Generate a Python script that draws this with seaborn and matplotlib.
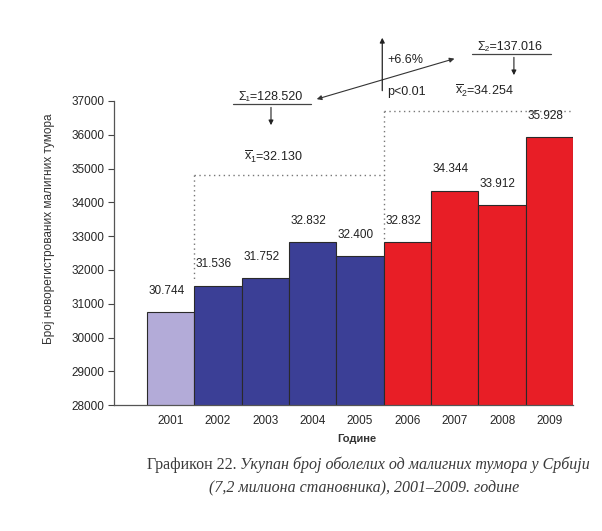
"""Recreate the Serbian cancer-incidence bar chart (2001-2009)."""

import matplotlib.pyplot as plt
import pandas as pd
import seaborn as sns

# Data
years = ["2001", "2002", "2003", "2004", "2005", "2006", "2007", "2008", "2009"]
cases = [30744, 31536, 31752, 32832, 32400, 32832, 34344, 33912, 35928]
bar_colors = ["#B3ABD8", "#3B3F96", "#3B3F96", "#3B3F96", "#3B3F96",
              "#E81E26", "#E81E26", "#E81E26", "#E81E26"]
y_ticks = list(range(28000, 37001, 1000))

sum_1 = "128.520"
sum_2 = "137.016"
mean_1 = "32.130"
mean_2 = "34.254"
change = "+6.6%"
p_value = "p<0.01"


def main():
    """Draw the chart and save it as out.png."""
    sns.set_theme(style="white")
    plt.rcParams["font.family"] = ["Liberation Sans", "DejaVu Sans"]
    plt.rcParams["mathtext.fontset"] = "custom"
    plt.rcParams["mathtext.rm"] = "Liberation Sans"
    plt.rcParams["mathtext.it"] = "Liberation Sans:italic"

    df = pd.DataFrame({"year": years, "cases": cases})

    fig = plt.figure(figsize=(6.02, 5.31), dpi=100)
    ax = fig.add_axes([0.189, 0.237, 0.763, 0.573])

    sns.barplot(data=df, x="year", y="cases", hue="year", palette=bar_colors,
                saturation=1, width=1.0, edgecolor="#2a2a2a", linewidth=0.8,
                legend=False, ax=ax)

    ax.set_ylim(28000, 37000)
    ax.set_xlim(-1.2, 8.5)
    ax.set_yticks(y_ticks)
    ax.tick_params(axis="y", length=4, width=0.8, pad=3, labelsize=8.5,
                   color="#444", left=True)
    ax.tick_params(axis="x", length=0, pad=7, labelsize=8.5)
    for side in ["top", "right"]:
        ax.spines[side].set_visible(False)
    for side in ["left", "bottom"]:
        ax.spines[side].set_color("#555")
        ax.spines[side].set_linewidth(0.9)

    ax.set_ylabel("Број новорегистрованих малигних тумора", fontsize=8.5,
                  color="#333")
    ax.yaxis.set_label_coords(-0.128, 0.58)
    ax.set_xlabel("Године", fontsize=8, fontweight="bold", color="#333")
    ax.xaxis.set_label_coords(0.53, -0.095)

    # value labels above bars
    for i, v in enumerate(cases):
        ax.annotate(f"{v:,}".replace(",", "."), xy=(i, v),
                    xytext=(-3, 11), textcoords="offset points",
                    ha="center", va="bottom", fontsize=8.5, color="#222")

    # dotted brackets around the two periods
    dot = dict(color="#777", linestyle=(0, (1, 2.5)), linewidth=1.0,
               clip_on=False)
    ax.plot([0.5, 4.5], [34800, 34800], **dot)
    ax.plot([0.5, 0.5], [34800, 31650], **dot)
    ax.plot([4.5, 8.5], [36700, 36700], **dot)
    ax.plot([4.5, 4.5], [36700, 32850], **dot)

    # period sums and means
    txt = dict(fontsize=9, color="#222", ha="center", va="bottom",
               clip_on=False)
    arrow = dict(arrowstyle="-|>", color="#222", lw=0.8, mutation_scale=7)
    ax.text(2.12, 36930, f"Σ₁={sum_1}", **txt)
    ax.plot([1.32, 2.97], [36910, 36910], color="#444", lw=0.9,
            clip_on=False)
    ax.annotate("", xy=(2.12, 36200), xytext=(2.12, 36890),
                arrowprops=arrow, annotation_clip=False)
    ax.text(2.16, 35342, "$\\overline{\\mathregular{x}}_1$=" + mean_1,
            fontsize=9, color="#222", ha="center", va="center")

    ax.text(7.17, 38420, f"Σ₂={sum_2}", **txt)
    ax.plot([6.37, 8.04], [38391, 38391], color="#444", lw=0.9,
            clip_on=False)
    ax.annotate("", xy=(7.25, 37680), xytext=(7.25, 38370),
                arrowprops=arrow, annotation_clip=False)
    ax.text(6.62, 37296, "$\\overline{\\mathregular{x}}_2$=" + mean_2,
            fontsize=9, color="#222", ha="center", va="center",
            clip_on=False)

    # comparison arrows
    ax.annotate("", xy=(3.03, 37029), xytext=(6.05, 38272),
                arrowprops=dict(arrowstyle="<|-|>", color="#333", lw=0.8,
                                mutation_scale=7),
                annotation_clip=False)
    ax.annotate("", xy=(4.47, 38950), xytext=(4.47, 37220),
                arrowprops=dict(arrowstyle="-|>", color="#222", lw=0.9,
                                mutation_scale=7),
                annotation_clip=False)
    ax.text(4.58, 38213, change, fontsize=9, color="#222", ha="left",
            va="center", clip_on=False)
    ax.text(4.58, 37266, p_value, fontsize=9, color="#222", ha="left",
            va="center", clip_on=False)

    # caption
    cap = dict(fontsize=11.5, color="#3a3a3a",
               family=["Liberation Serif", "DejaVu Serif"])
    head = fig.text(147 / 602, 1 - 465 / 531, "Графикон 22. ", ha="left",
                    va="center", **cap)
    fig.canvas.draw()
    ax.annotate("Укупан број оболелих од малигних тумора у Србији",
                xy=(1, 0.5), xycoords=head, ha="left", va="center",
                style="italic", annotation_clip=False, **cap)
    fig.text(364 / 602, 1 - 488 / 531,
             "(7,2 милиона становника), 2001–2009. године",
             ha="center", va="center", style="italic", **cap)

    fig.savefig("out.png", dpi=100, facecolor="white")
    plt.close(fig)


if __name__ == "__main__":
    main()
